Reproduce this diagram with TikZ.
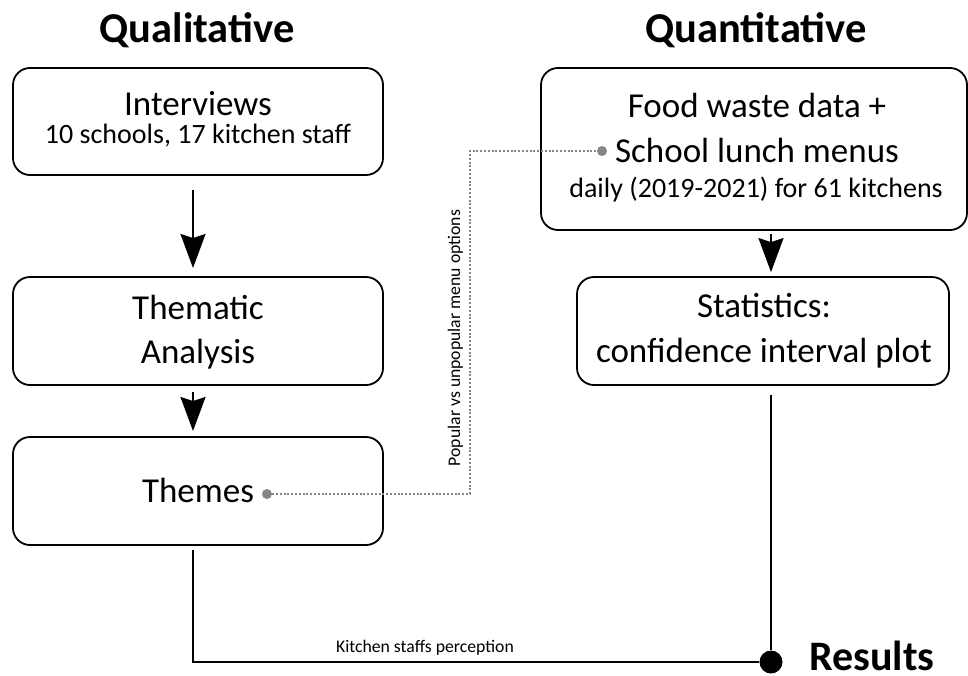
\documentclass[tikz,border=0pt]{standalone}
\usepackage{fontspec}
\setmainfont{Carlito}
\usetikzlibrary{arrows.meta}
\begin{document}
\begin{tikzpicture}[x=1pt,y=-1pt,
  box/.style={draw, line width=1.8pt, rounded corners=17pt, inner sep=0pt},
  conn/.style={line width=1.8pt},
  arr/.style={line width=1.8pt, -{Stealth[width=25pt,length=34pt,inset=4pt]}},
  gdot/.style={circle, fill=black!48, inner sep=0pt, minimum size=10pt},
  dotl/.style={draw=black!48, line width=2.1pt, dash pattern=on 2pt off 1.8pt},
  head/.style={font=\fontsize{42.5}{50}\selectfont\bfseries, anchor=base},
  big/.style={font=\fontsize{35}{42}\selectfont, anchor=base},
  mid/.style={font=\fontsize{28}{34}\selectfont, anchor=base},
  small/.style={font=\fontsize{17.7}{21}\selectfont}
]
\useasboundingbox (0,0) rectangle (968,675);

% headings
\node[head] (hq) at (197,42) {Qualitative};
\node[head] (hn) at (756,42) {Quantitative};

% left boxes
\node[box, minimum width=370pt, minimum height=107pt] (int) at (198,121.5) {};
\node[big] (intt) at (198,115) {Interviews};
\node[mid] (ints) at (198,143) {10 schools, 17 kitchen staff};

\node[box, minimum width=370pt, minimum height=108pt] (thm) at (198,331) {};
\node[big] (thm1) at (198,319) {Thematic};
\node[big] (thm2) at (198,363) {Analysis};

\node[box, minimum width=370pt, minimum height=108pt] (ths) at (198,491) {};
\node[big] (thst) at (198,502) {Themes};

% right boxes
\node[box, minimum width=426pt, minimum height=162pt] (food) at (754,149) {};
\node[big] (food1) at (757,117) {Food waste data +};
\node[big] (food2) at (757,162) {School lunch menus};
\node[mid] (food3) at (756,197) {daily (2019-2021) for 61 kitchens};

\node[box, minimum width=372pt, minimum height=108pt] (stat) at (763,331) {};
\node[big] (stat1) at (764,317) {Statistics:};
\node[big] (stat2) at (764,362) {confidence interval plot};

% results
\node[circle, fill=black, inner sep=0pt, minimum size=23pt] (resdot) at (771,662) {};
\node[font=\fontsize{42}{50}\selectfont\bfseries, anchor=base west, inner sep=0pt] (res) at (809,670) {Results};

% arrows
\coordinate (a1s) at (193,190);
\coordinate (a1e) at (193,268);
\draw[arr] (a1s) -- (a1e);
\coordinate (a2s) at (193,392);
\coordinate (a2e) at (193,431);
\draw[arr] (a2s) -- (a2e);
\draw[arr, shorten <=3pt, shorten >=4pt] (food.south -| resdot) -- (stat.north -| resdot);

% result lines
\coordinate (l1s) at (193,550);
\draw[conn] (l1s) |- (resdot);
\coordinate (l2s) at (771,395);
\draw[conn] (l2s) -- (resdot);
\node[small, anchor=base] (kit) at (425,652) {Kitchen staffs perception};

% dotted link
\node[gdot] (d1) at (267,494) {};
\node[gdot] (d2) at (602,151) {};
\coordinate (bend) at (470,151);
\draw[dotl] (d1) -| (bend) -- (d2);
\node[small, rotate=90, anchor=base] (pop) at (460,338) {Popular vs unpopular menu options};
\end{tikzpicture}
\end{document}
